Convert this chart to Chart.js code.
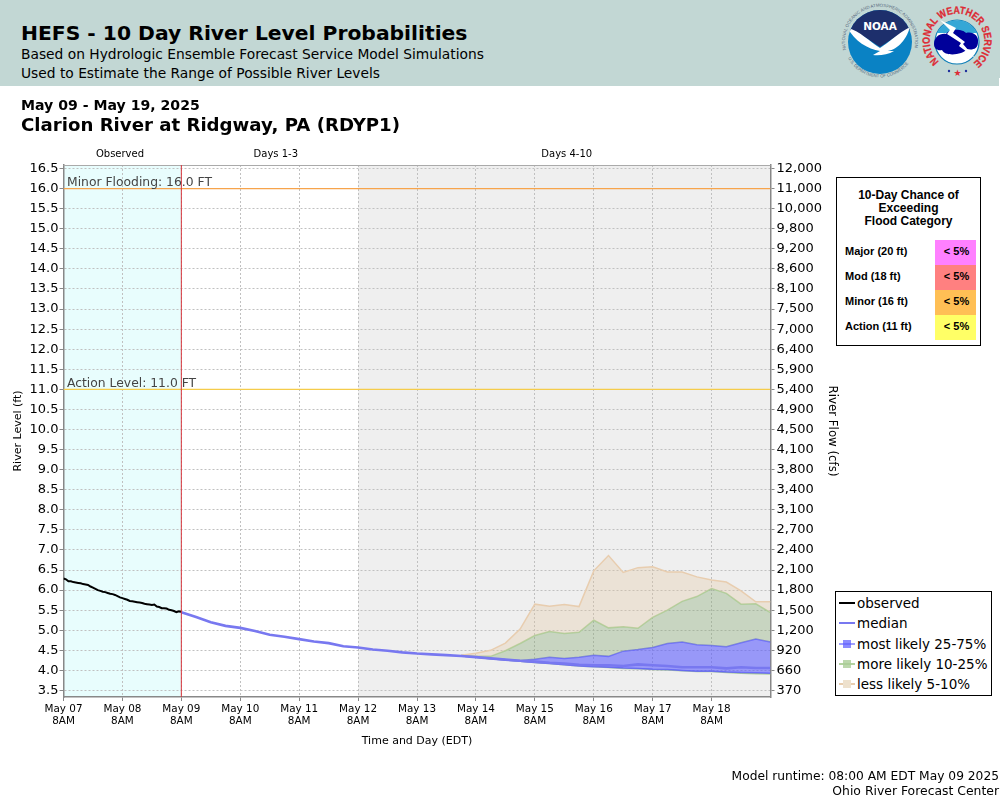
<!DOCTYPE html>
<html>
<head>
<meta charset="utf-8">
<title>HEFS - 10 Day River Level Probabilities</title>
<script src="https://cdn.jsdelivr.net/npm/chart.js@4"></script>
<style>
    body { margin: 0; background: #fff; font-family: "DejaVu Sans", sans-serif; color: #000; }
    #page { position: relative; width: 1000px; height: 800px; overflow: hidden; }
    #page canvas { position: absolute; left: 0; top: 0; }
    #banner { position: absolute; left: 0; top: 0; width: 1000px; height: 86px; background: #c2d7d4; }
    .txt { position: absolute; white-space: nowrap; line-height: 1; }
    #logos { position: absolute; left: 840px; top: 0; }
    #flood { position: absolute; left: 836px; top: 177px; width: 143px; height: 167px; border: 1px solid #000; background: #fff;
             font-family: "Liberation Sans", sans-serif; font-weight: bold; }
    #flood .head { position: absolute; left: 0; width: 100%; top: 11px; text-align: center; font-size: 12px; line-height: 13px; }
    #flood .name { position: absolute; left: 8px; font-size: 11px; line-height: 23px; }
    #flood .cell { position: absolute; left: 98px; width: 41px; height: 25px; font-size: 11px; line-height: 23px; text-align: center; text-indent: 2px; }
    #legend { position: absolute; left: 835px; top: 591px; width: 155px; height: 103px; border: 1px solid #000; background: #fff; }
    #legend .row { position: absolute; left: 21px; font-size: 13.5px; line-height: 20px; white-space: nowrap; }
    #legend .line { position: absolute; left: 3px; width: 16px; height: 2px; }
    #legend .box { position: absolute; left: 7px; width: 8px; height: 8px; }
</style>
</head>
<body>
<div id="page">
    <canvas id="chart" width="1000" height="800"></canvas>
    <div id="banner">
        <div class="txt" style="left:21px;top:23px;font-size:20.3px;font-weight:bold">HEFS - 10 Day River Level Probabilities</div>
        <div class="txt" style="left:21px;top:48px;font-size:13.8px">Based on Hydrologic Ensemble Forecast Service Model Simulations</div>
        <div class="txt" style="left:21px;top:67px;font-size:13.8px">Used to Estimate the Range of Possible River Levels</div>
        <svg id="logos" width="160" height="86" viewBox="0 0 160 86">
            <defs>
                <clipPath id="noaaClip"><circle cx="40" cy="42" r="32"/></clipPath>
                <path id="noaaTop" d="M 6 50 A 35 35 0 1 1 74 50"/>
                <path id="noaaBottom" d="M 8 58 A 36 36 0 0 0 72 58"/>
                <path id="nwsTop" d="M 99 61.5 A 27.3 27.3 0 1 1 135 61.5"/>
            </defs>
            <g clip-path="url(#noaaClip)">
                <rect x="5" y="5" width="70" height="74" fill="#0a82c4"/>
                <g transform="translate(0,1)">
                    <path d="M 5 5 H 75 V 28 C 62 30 50 40 40 46 C 30 40 18 30 5 28 Z" fill="#1d2f6c"/>
                    <path d="M 8 27 C 20 30 30 41 40 47 C 50 41 58 32 70 26 C 66 40 56 50 46 50 L 54 50 C 48 54 38 55 33 54 L 40 50 C 28 48 14 40 8 27 Z" fill="#fff"/>
                </g>
            </g>
            <text x="40" y="30" text-anchor="middle" fill="#fff" font-family="DejaVu Sans" font-weight="bold" font-size="10.5">NOAA</text>
            <text fill="#596a80" font-family="Liberation Sans" font-size="4.4"><textPath href="#noaaTop" textLength="124" lengthAdjust="spacingAndGlyphs">NATIONAL OCEANIC AND ATMOSPHERIC ADMINISTRATION</textPath></text>
            <text fill="#596a80" font-family="Liberation Sans" font-size="4.4"><textPath href="#noaaBottom" textLength="72" lengthAdjust="spacingAndGlyphs">U.S. DEPARTMENT OF COMMERCE</textPath></text>
            <circle cx="117" cy="42" r="22" fill="#fff" stroke="#0f7fb8" stroke-width="1.2"/>
            <path d="M 97 33 A 22 22 0 0 1 137 33 Z" fill="#35a7d6"/>
            <path d="M 94 44 C 94 37 100 33 106 34 C 110 28 123 29 126 33 C 133 31 139 36 138 42 C 138 50 131 50 127 49 C 123 55 105 57 102 50 C 98 51 94 49 94 44 Z" fill="#00009a"/>
            <path d="M 100 20 L 116 28 L 113 33 L 125 42 L 123 44 L 135 58 L 119 46 L 121 43 L 107 34 L 110 30 Z" fill="#fff"/>
            <text fill="#dd2b35" stroke="#dd2b35" stroke-width="0.3" font-family="Liberation Sans" font-weight="bold" font-size="10.5"><textPath href="#nwsTop" textLength="134" lengthAdjust="spacingAndGlyphs">NATIONAL WEATHER SERVICE</textPath></text>
            <text x="117.5" y="76" text-anchor="middle" fill="#dd2b35" font-size="9">★</text>
            <circle cx="109" cy="71" r="1.2" fill="#1d2f9c"/>
            <circle cx="126" cy="71" r="1.2" fill="#1d2f9c"/>
            <rect x="159" y="78" width="1" height="8" fill="#fff"/>
        </svg>
    </div>
    <div class="txt" style="left:21px;top:98px;font-size:14.1px;font-weight:bold">May 09 - May 19, 2025</div>
    <div class="txt" style="left:21px;top:116px;font-size:18.15px;font-weight:bold">Clarion River at Ridgway, PA (RDYP1)</div>
    <div id="flood"></div>
    <div id="legend"></div>
    <div class="txt" style="right:1px;top:770px;font-size:12.25px">Model runtime: 08:00 AM EDT May 09 2025</div>
    <div class="txt" style="right:1px;top:785px;font-size:12.4px">Ohio River Forecast Center</div>
</div>
<script>
// hours are counted from May 07 8AM
const dayLabels = ["May 07", "May 08", "May 09", "May 10", "May 11", "May 12", "May 13", "May 14", "May 15", "May 16", "May 17", "May 18"];
const levelTicks = [3.5, 4, 4.5, 5, 5.5, 6, 6.5, 7, 7.5, 8, 8.5, 9, 9.5, 10, 10.5, 11, 11.5, 12, 12.5, 13, 13.5, 14, 14.5, 15, 15.5, 16, 16.5];
const flowTicks = ["370", "660", "920", "1,200", "1,500", "1,800", "2,100", "2,400", "2,700", "3,100", "3,400", "3,800", "4,100", "4,500", "4,900", "5,400", "5,900", "6,400", "7,000", "7,500", "8,100", "8,600", "9,200", "9,800", "10,000", "11,000", "12,000"];

const observedHours = [0, 1, 2, 3, 4, 5, 6, 7, 8, 9, 10, 11, 12, 13, 14, 15, 16, 17, 18, 19, 20, 21, 22, 23, 24, 25, 26, 27, 28, 29, 30, 31, 32, 33, 34, 35, 36, 37, 38, 39, 40, 41, 42, 43, 44, 45, 46, 47, 48];
const observed = [6.29, 6.27, 6.22, 6.22, 6.2, 6.19, 6.18, 6.17, 6.15, 6.14, 6.13, 6.09, 6.06, 6.03, 6, 5.98, 5.96, 5.95, 5.93, 5.91, 5.9, 5.88, 5.85, 5.82, 5.8, 5.78, 5.76, 5.73, 5.72, 5.71, 5.7, 5.69, 5.68, 5.66, 5.65, 5.64, 5.63, 5.64, 5.59, 5.58, 5.55, 5.55, 5.54, 5.51, 5.5, 5.48, 5.45, 5.47, 5.46];

const medianHours = [48, 54, 60, 66, 72, 78, 84, 90, 96, 102, 108, 114, 120, 126, 132, 138, 144, 150, 156, 162, 168, 174, 180, 186, 192, 198, 204, 210, 216, 222, 228, 234, 240, 246, 252, 258, 264, 270, 276, 282, 288];
const median = [5.45, 5.33, 5.2, 5.11, 5.06, 4.98, 4.89, 4.84, 4.78, 4.72, 4.68, 4.6, 4.57, 4.52, 4.49, 4.45, 4.42, 4.4, 4.38, 4.36, 4.33, 4.3, 4.27, 4.24, 4.22, 4.19, 4.17, 4.14, 4.13, 4.13, 4.11, 4.15, 4.13, 4.11, 4.08, 4.08, 4.08, 4.05, 4.08, 4.06, 4.06];

const bandHours = [162, 168, 174, 180, 186, 192, 198, 204, 210, 216, 222, 228, 234, 240, 246, 252, 258, 264, 270, 276, 282, 288];
const p95 = [4.38, 4.43, 4.5, 4.68, 5.03, 5.65, 5.6, 5.64, 5.59, 6.48, 6.86, 6.44, 6.56, 6.58, 6.45, 6.45, 6.33, 6.25, 6.2, 5.98, 5.71, 5.71];
const p90 = [4.37, 4.35, 4.35, 4.49, 4.67, 4.87, 4.97, 4.92, 4.95, 5.25, 5.06, 5.09, 5.05, 5.32, 5.5, 5.72, 5.84, 6.04, 5.92, 5.65, 5.66, 5.44];
const p75 = [4.37, 4.34, 4.3, 4.27, 4.25, 4.28, 4.33, 4.3, 4.33, 4.38, 4.35, 4.48, 4.52, 4.57, 4.67, 4.71, 4.64, 4.62, 4.59, 4.69, 4.78, 4.71];
const p25 = [4.36, 4.33, 4.29, 4.26, 4.23, 4.2, 4.17, 4.14, 4.11, 4.09, 4.08, 4.06, 4.05, 4.03, 4.02, 4, 3.98, 3.98, 3.96, 3.95, 3.94, 3.93];
const p10 = [4.36, 4.33, 4.29, 4.26, 4.23, 4.2, 4.17, 4.14, 4.11, 4.09, 4.07, 4.05, 4.04, 4.02, 4.01, 3.99, 3.97, 3.97, 3.95, 3.93, 3.92, 3.91];

const periodLabels = ["Observed", "Days 1-3", "Days 4-10"];
const periodLabelHours = [23, 86.5, 205];
const periodEdges = [0, 48, 120, 288];
const periodColors = ["#e8fdfd", "#ffffff", "#efefef"];

const floodHead = ["10-Day Chance of", "Exceeding", "Flood Category"];
const floodNames = ["Major (20 ft)", "Mod (18 ft)", "Minor (16 ft)", "Action (11 ft)"];
const floodChance = ["< 5%", "< 5%", "< 5%", "< 5%"];
const floodColors = ["#ff80ff", "#ff8080", "#ffbf55", "#ffff66"];

const legendLabels = ["observed", "median", "most likely 25-75%", "more likely 10-25%", "less likely 5-10%"];

const thresholdHours = [0, 288];
const thresholds = [
    { label: "Minor Flooding: 16.0 FT", value: 16, color: "#f7a44c" },
    { label: "Action Level: 11.0 FT", value: 11, color: "#f5cc4a" },
];

const BLUE_LINE = "rgba(95,95,255,0.75)";
const GREEN_LINE = "rgba(170,205,150,0.9)";
const TAN_LINE = "rgba(232,205,175,1)";
const BLUE_FILL = "rgba(80,80,255,0.55)";
const GREEN_FILL = "rgba(120,160,100,0.33)";
const TAN_FILL = "rgba(225,195,155,0.3)";

const toPoints = (xs, ys) => xs.map((x, i) => ({ x: x, y: ys[i] }));

function bandDataset(label, values, line, fill) {
    return {
        label: label,
        data: toPoints(bandHours, values),
        borderColor: line,
        backgroundColor: fill || "transparent",
        borderWidth: 1.5,
        pointRadius: 0,
        fill: fill ? "+1" : false,
    };
}

// period shading behind the grid, period titles above the plot
const periodPlugin = {
    id: "periods",
    beforeDraw(chart) {
        const ctx = chart.ctx;
        const x = chart.scales.x;
        const area = chart.chartArea;
        ctx.save();
        periodLabels.forEach((label, i) => {
            const left = x.getPixelForValue(periodEdges[i]);
            const right = x.getPixelForValue(periodEdges[i + 1]);
            ctx.fillStyle = periodColors[i];
            ctx.fillRect(left, area.top, right - left, area.bottom - area.top);
            ctx.fillStyle = "#000";
            ctx.font = '10px "DejaVu Sans"';
            ctx.textAlign = "center";
            ctx.textBaseline = "middle";
            ctx.fillText(label, x.getPixelForValue(periodLabelHours[i]), area.top - 11);
        });
        ctx.restore();
    },
    afterDraw(chart) {
        const ctx = chart.ctx;
        const x = chart.scales.x;
        const y = chart.scales.y;
        const area = chart.chartArea;
        ctx.save();
        // top edge of the plot
        ctx.strokeStyle = "#aaa";
        ctx.lineWidth = 1;
        ctx.beginPath();
        ctx.moveTo(area.left, area.top + 0.5);
        ctx.lineTo(area.right, area.top + 0.5);
        ctx.stroke();
        // forecast start
        const nowX = x.getPixelForValue(periodEdges[1]);
        ctx.strokeStyle = "#d8333a";
        ctx.beginPath();
        ctx.moveTo(nowX, area.top);
        ctx.lineTo(nowX, area.bottom);
        ctx.stroke();
        ctx.fillStyle = "#444";
        ctx.font = '12.35px "DejaVu Sans"';
        ctx.textAlign = "left";
        ctx.textBaseline = "bottom";
        thresholds.forEach((t) => {
            ctx.fillText(t.label, x.getPixelForValue(0) + 3.5, y.getPixelForValue(t.value) + 0.5);
        });
        ctx.restore();
    },
};

new Chart(document.getElementById("chart"), {
    type: "line",
    data: {
        datasets: [
            {
                label: "observed",
                data: toPoints(observedHours, observed),
                borderColor: "#000",
                borderWidth: 2,
                pointRadius: 0,
                fill: false,
            },
            {
                label: "median",
                data: toPoints(medianHours, median),
                borderColor: "#7878f0",
                borderWidth: 2.6,
                pointRadius: 0,
                fill: false,
            },
            bandDataset("p95", p95, TAN_LINE, TAN_FILL),
            bandDataset("p90", p90, GREEN_LINE, GREEN_FILL),
            bandDataset("p75", p75, BLUE_LINE, BLUE_FILL),
            bandDataset("p25", p25, BLUE_LINE, GREEN_FILL),
            bandDataset("p10", p10, GREEN_LINE, null),
            ...thresholds.map((t) => ({
                label: t.label,
                data: thresholdHours.map((h) => ({ x: h, y: t.value })),
                borderColor: t.color,
                borderWidth: 1.2,
                pointRadius: 0,
                fill: false,
            })),
        ],
    },
    options: {
        responsive: false,
        animation: false,
        events: [],
        layout: { padding: { top: 165, right: 161, bottom: 52, left: 0 } },
        plugins: { legend: { display: false }, tooltip: { enabled: false } },
        scales: {
            x: {
                type: "linear",
                min: 0,
                max: 288,
                afterBuildTicks: (scale) => {
                    scale.ticks = dayLabels.map((d, i) => ({ value: i * 24 }));
                },
                afterFit: (scale) => {
                    scale.height = 51;
                },
                ticks: {
                    autoSkip: false,
                    maxRotation: 0,
                    padding: 2,
                    color: "#000",
                    font: { family: "DejaVu Sans", size: 10.4, lineHeight: 1.15 },
                    callback: (v) => [dayLabels[v / 24], "8AM"],
                },
                grid: { color: "#c0c0c0", tickColor: "#888", tickLength: 4, tickBorderDash: [] },
                border: { color: "#888", width: 1.5, dash: [2, 2] },
                title: {
                    display: true,
                    text: "Time and Day (EDT)",
                    color: "#000",
                    padding: 0,
                    font: { family: "DejaVu Sans", size: 11 },
                },
            },
            y: {
                position: "left",
                min: 3.338,
                max: 16.588,
                afterBuildTicks: (scale) => {
                    scale.ticks = levelTicks.map((v) => ({ value: v }));
                },
                afterFit: (scale) => {
                    scale.width = 63.5;
                },
                ticks: {
                    autoSkip: false,
                    padding: 1,
                    color: "#000",
                    font: { family: "DejaVu Sans", size: 13 },
                    callback: (v) => v.toFixed(1),
                },
                grid: { color: "#c0c0c0", tickColor: "#888", tickLength: 4, tickBorderDash: [] },
                border: { color: "#888", width: 1.5, dash: [2, 2] },
                title: {
                    display: true,
                    text: "River Level (ft)",
                    color: "#000",
                    padding: { top: 12, bottom: 0 },
                    font: { family: "DejaVu Sans", size: 11 },
                },
            },
            y2: {
                position: "right",
                min: 3.338,
                max: 16.588,
                afterBuildTicks: (scale) => {
                    scale.ticks = levelTicks.map((v) => ({ value: v }));
                },
                afterFit: (scale) => {
                    scale.width = 68.5;
                },
                ticks: {
                    autoSkip: false,
                    padding: 2,
                    color: "#000",
                    font: { family: "DejaVu Sans", size: 13 },
                    callback: (v) => flowTicks[levelTicks.indexOf(v)],
                },
                grid: { drawOnChartArea: false, tickColor: "#888", tickLength: 4 },
                border: { color: "#888", width: 1.5 },
                title: {
                    display: true,
                    text: "River Flow (cfs)",
                    color: "#000",
                    padding: { top: 0, bottom: 0 },
                    font: { family: "DejaVu Sans", size: 11.8 },
                },
            },
        },
    },
    plugins: [periodPlugin],
});

// flood category box
const floodBox = document.getElementById("flood");
floodBox.innerHTML = '<div class="head">' + floodHead.join("<br>") + "</div>";
floodNames.forEach((name, i) => {
    const top = 62 + i * 25;
    const nameEl = document.createElement("div");
    nameEl.className = "name";
    nameEl.style.top = top + "px";
    nameEl.textContent = name;
    const cell = document.createElement("div");
    cell.className = "cell";
    cell.style.top = top + "px";
    cell.style.background = floodColors[i];
    cell.textContent = floodChance[i];
    floodBox.append(nameEl, cell);
});

// legend box
const legendSwatches = [
    { line: "#000" },
    { line: "#7878f0" },
    { line: "rgba(120,120,255,0.7)", box: "rgba(90,90,255,0.7)" },
    { line: "rgba(170,205,150,0.9)", box: "rgba(170,205,150,0.8)" },
    { line: "rgba(232,205,175,1)", box: "rgba(238,225,205,1)" },
];
const legendBox = document.getElementById("legend");
legendLabels.forEach((label, i) => {
    const top = 1 + i * 20.3;
    const row = document.createElement("div");
    row.className = "row";
    row.style.top = top + "px";
    row.textContent = label;
    const line = document.createElement("div");
    line.className = "line";
    line.style.top = top + 9 + "px";
    line.style.background = legendSwatches[i].line;
    legendBox.append(row, line);
    if (legendSwatches[i].box) {
        const box = document.createElement("div");
        box.className = "box";
        box.style.top = top + 6 + "px";
        box.style.background = legendSwatches[i].box;
        legendBox.append(box);
    }
});
</script>
</body>
</html>
